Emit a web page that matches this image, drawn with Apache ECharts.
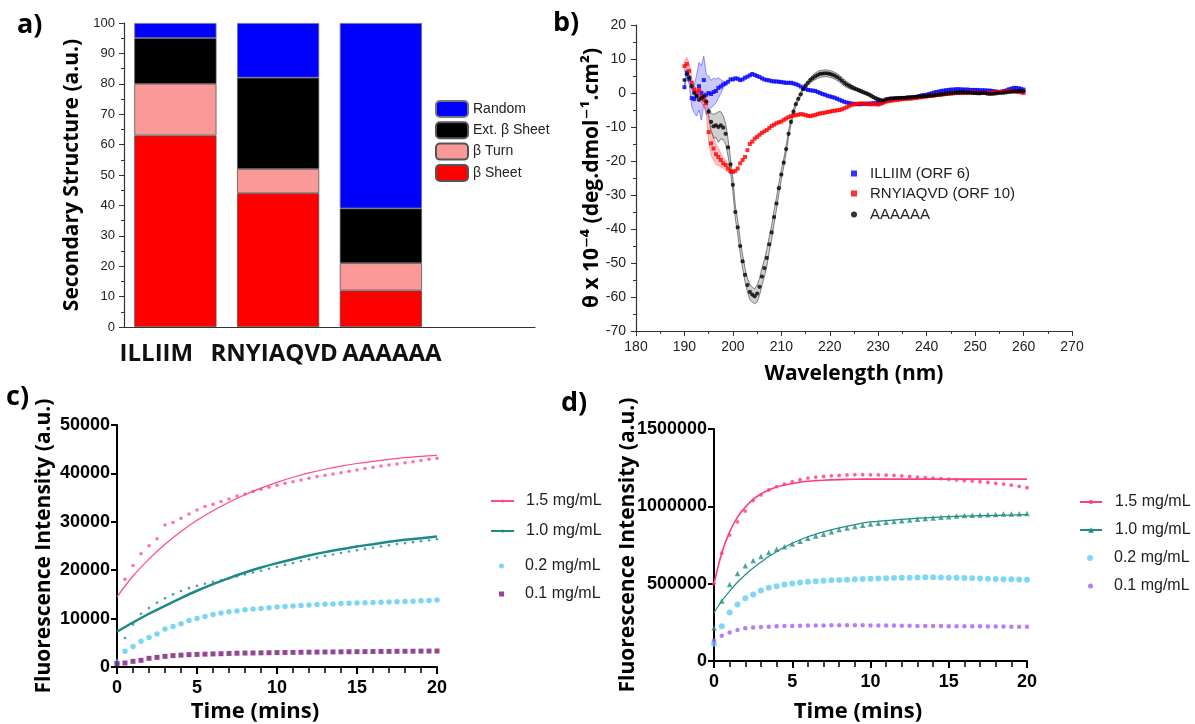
<!DOCTYPE html>
<html><head><meta charset="utf-8">
<script src="https://cdn.jsdelivr.net/npm/echarts@6/dist/echarts.min.js"></script>
<style>html,body{margin:0;padding:0;background:#fff}#c{width:1195px;height:724px}</style>
</head><body><div id="c"></div>
<script>
// ---------- Panel a: secondary structure ----------
const peptides = ['ILLIIM', 'RNYIAQVD', 'AAAAAA', ''];
const betaSheet    = [63, 44, 12, null];
const betaTurn     = [17, 8, 9, null];
const extBetaSheet = [15, 30, 18, null];
const randomCoil   = [5, 18, 61, null];
const structLegend = ['Random', 'Ext. β Sheet', 'β Turn', 'β Sheet'];

// ---------- Panel b: CD spectra (0.5 nm steps, 190-260 nm) ----------
const wavelength = Array.from({length: 141}, (_, i) => 190 + i * 0.5);
const cdILLIIM = [
 1.7, 6, 4, -1.5, -1.8, -0.8, 2, 0, 3.8, -0.5,
 0, -0.3, 0.3, 0.6, 1.5, 1.9, 2.5, 2.8, 3.3, 4,
 4, 4.3, 4.2, 3.8, 4, 4.5, 4.8, 5.2, 5.6, 5.3,
 5, 4.7, 4.3, 4, 3.8, 3.7, 3.5, 3.4, 3.4, 3.3,
 3.2, 3.1, 3, 3, 3, 2.8, 2.6, 2.3, 1.9, 1.5,
 1.2, 0.9, 0.8, 0.7, 0.6, 0.3, 0, -0.3, -0.5, -0.8,
 -1, -1.2, -1.4, -1.7, -2, -2.3, -2.6, -2.8, -3, -3.1,
 -3.2, -3.3, -3.3, -3.3, -3.2, -3.2, -3.1, -3.1, -3, -3,
 -2.9, -2.8, -2.6, -2.3, -2, -1.8, -1.7, -1.7, -1.6, -1.6,
 -1.5, -1.5, -1.4, -1.4, -1.3, -1.2, -1.1, -0.9, -0.7, -0.6,
 -0.5, -0.3, -0.1, 0.1, 0.3, 0.4, 0.6, 0.7, 0.8, 0.9,
 1, 1, 1.1, 1.1, 1.1, 1, 1, 1, 0.9, 0.9,
 0.9, 0.9, 0.8, 0.8, 0.8, 0.7, 0.7, 0.6, 0.5, 0.4,
 0.3, 0.4, 0.6, 0.8, 1.1, 1.3, 1.5, 1.5, 1.4, 1.2,
 1];
const cdRNYIAQVD = [
 7.9, 8.5, 6.5, 3, 1, 0.2, 0.8, -1, -2, -3,
 -11.5, -14.8, -16.3, -18, -18.8, -19.7, -20.7, -21.2, -22.2, -23,
 -23.2, -22.9, -22.2, -20.7, -19.7, -18.8, -16.8, -15, -14.3, -13.4,
 -12.9, -12.3, -11.7, -11.3, -10.9, -10.3, -9.7, -9.3, -8.9, -8.6,
 -8.4, -7.9, -7.5, -7.1, -6.8, -6.6, -6.5, -6.4, -6.2, -6.3,
 -6.5, -6.7, -6.8, -6.6, -6.5, -6.2, -6, -5.9, -5.8, -5.6,
 -5.5, -5.3, -5.2, -5.1, -5, -4.8, -4.5, -4.2, -3.8, -3.5,
 -3.3, -3.2, -3.1, -3.1, -3.1, -3.2, -3.3, -3.3, -3.3, -3.3,
 -3.4, -3.2, -2.9, -2.6, -2.4, -2.3, -2.2, -2.1, -2, -1.9,
 -1.8, -1.75, -1.7, -1.65, -1.6, -1.5, -1.4, -1.3, -1.2, -1.1,
 -1, -0.9, -0.8, -0.7, -0.6, -0.55, -0.5, -0.4, -0.3, -0.25,
 -0.2, -0.1, 0, 0, 0, 0, 0, 0.1, 0.2, 0.1,
 0, 0, 0, 0, 0, 0, 0, 0.1, 0.2, 0.2,
 0.3, 0.4, 0.5, 0.5, 0.5, 0.5, 0.5, 0.4, 0.3, 0.2,
 0];
const cdAAAAAA = [
 3.8, 5.5, 4.5, 2, 0, -1, -2, -1.5, -1, -2.5,
 -5.5, -8.5, -9.8, -9.5, -10, -9.5, -10.2, -12, -16, -21,
 -27, -35, -39.5, -45, -49.5, -53.5, -56.5, -58.5, -59.3, -59.8,
 -59, -57, -54, -51.5, -48.5, -44.5, -41, -36.5, -32.5, -28,
 -24, -20.5, -16.5, -12, -8.5, -5.5, -3.3, -1.7, -0.4, 1.2,
 2.2, 3, 3.8, 4.4, 4.9, 5.3, 5.6, 5.7, 5.8, 5.8,
 5.6, 5.4, 5.1, 4.7, 4.2, 3.6, 3.0, 2.5, 2.1, 1.7,
 1.4, 1.1, 0.8, 0.5, 0.2, -0.1, -0.4, -0.8, -1.2, -1.6,
 -1.9, -2.1, -2.2, -1.9, -1.7, -1.6, -1.6, -1.5, -1.5, -1.4,
 -1.4, -1.4, -1.3, -1.3, -1.2, -1.2, -1.1, -1.0, -1.0, -0.9,
 -0.9, -0.8, -0.8, -0.7, -0.6, -0.5, -0.4, -0.3, -0.2, -0.1,
 0, 0, 0.1, 0.1, 0.2, 0.2, 0.2, 0.1, 0.1, 0,
 0, -0.1, -0.1, 0, 0, -0.2, -0.3, -0.3, -0.2, -0.1,
 0, 0, 0.1, 0.2, 0.3, 0.4, 0.5, 0.5, 0.6, 0.5,
 0.5];
// error half-widths (shaded bands), 0.5 nm steps from the given start
const errStartILLIIM = 190;
const errILLIIM = [0.5, 1, 1.5, 2.5, 4, 6, 7, 8, 7, 6, 5, 4, 4, 3.5, 3, 2, 1, 0.5];
const errStartRNYIAQVD = 190;
const errRNYIAQVD = [1.5, 2, 2, 1.5, 1, 1, 1.5, 2, 2, 2.5, 3, 3.5, 3.5, 3, 2.5, 2, 1.5, 1.5, 1, 1];
const errStartAAAAAA = 195;
const errAAAAAA = [
 1, 2.5, 3.5, 3.5, 4.5, 4, 3.5, 3, 2.5, 2,
 2, 2, 2, 2, 2, 2, 2, 2.2, 2.2, 2.2,
 2.5, 2.5, 2.5, 2.5, 2.5, 2.2, 2, 2, 1.8, 1.5,
 1.5, 1.2, 1, 1, 0.8, 0.8, 0.6, 0.6, 0.6, 0.6,
 0.7, 0.7, 0.8, 0.9, 1, 1, 1, 1, 1, 1,
 1, 1, 1, 1, 1, 1, 1, 0.9, 0.8, 0.7,
 0.6, 0.5, 0.5, 0.5, 0.5, 0.5, 0.5, 0.5, 0.5, 0.5,
 0.5, 0.4, 0.3];
const cdLegend = ['ILLIIM (ORF 6)', 'RNYIAQVD (ORF 10)', 'AAAAAA'];

// ---------- Panels c & d: fluorescence kinetics ----------
const timeMin = Array.from({length: 41}, (_, i) => i * 0.5);
const concLegend = ['1.5 mg/mL', '1.0 mg/mL', '0.2 mg/mL', '0.1 mg/mL'];
// panel c
const c15 = [800, 18150, 20970, 23380, 25030, 26480, 29360, 29850, 30740, 31630, 32460, 33150, 33630, 34180, 34730, 35350, 35760, 36240, 36720, 37140, 37550, 37960, 38300, 38650, 38990, 39340, 39610, 39890, 40160, 40440, 40710, 40990, 41260, 41540, 41740, 41950, 42220, 42430, 42640, 42910, 43120];
const c10 = [1500, 6000, 8800, 11000, 12200, 13300, 14200, 15000, 15700, 16300, 16800, 17200, 17600, 17900, 18300, 18700, 19100, 19500, 19900, 20300, 20700, 21100, 21500, 21900, 22250, 22600, 22950, 23250, 23550, 23850, 24100, 24400, 24650, 24900, 25150, 25400, 25600, 25800, 26000, 26200, 26400];
const c02 = [830, 3230, 4260, 5300, 6120, 6810, 7840, 8390, 8940, 9630, 10040, 10450, 10870, 11140, 11420, 11550, 11830, 11970, 12100, 12240, 12380, 12500, 12600, 12700, 12800, 12900, 12950, 13000, 13100, 13150, 13200, 13300, 13350, 13400, 13450, 13500, 13550, 13600, 13700, 13750, 13850];
const c01 = [690, 830, 1170, 1380, 1790, 1990, 2200, 2350, 2450, 2550, 2600, 2650, 2700, 2750, 2800, 2850, 2880, 2900, 2930, 2950, 2980, 3000, 3020, 3040, 3060, 3080, 3100, 3120, 3140, 3150, 3170, 3180, 3200, 3210, 3220, 3240, 3250, 3260, 3280, 3290, 3300];
const fitTimeC = [0, 1, 2, 3, 4, 5, 6, 7, 8, 9, 10, 11, 12, 13, 14, 15, 16, 17, 18, 19, 20];
const c15fit = [14500, 18800, 22300, 25350, 28000, 30300, 32300, 34050, 35600, 36950, 38150, 39200, 40100, 40850, 41500, 42050, 42500, 42900, 43250, 43520, 43740];
const c10fit = [7300, 9200, 11000, 12650, 14240, 15750, 17120, 18360, 19530, 20560, 21460, 22280, 23040, 23730, 24340, 24900, 25380, 25860, 26270, 26610, 26960];
// panel d
const d15 = [500700, 696700, 814000, 899000, 969500, 1037700, 1073900, 1105800, 1127100, 1144200, 1159100, 1171900, 1182500, 1188900, 1193200, 1197000, 1200000, 1203000, 1205000, 1205000, 1204000, 1203000, 1202000, 1200000, 1197000, 1193000, 1189000, 1186000, 1183000, 1179000, 1175000, 1171000, 1167000, 1163000, 1159000, 1154000, 1149000, 1144000, 1137000, 1129000, 1120000];
const d10 = [213000, 388000, 494000, 565000, 616000, 650000, 675000, 701000, 722000, 739000, 756000, 775000, 793000, 808000, 820000, 835000, 850000, 860000, 870000, 878000, 885000, 891000, 897000, 902000, 907000, 912000, 917000, 921000, 925000, 929000, 933000, 937000, 940000, 942000, 944000, 946000, 948000, 950000, 951000, 952000, 953000];
const d02 = [111000, 224000, 313000, 366000, 405000, 430000, 456000, 473000, 484000, 494000, 501000, 507000, 512000, 516000, 519000, 522000, 524000, 526000, 528000, 530000, 532000, 534000, 535000, 536000, 538000, 539000, 540000, 541000, 541000, 540000, 539000, 538000, 536000, 535000, 533000, 532000, 530000, 529000, 528000, 527000, 526000];
const d01 = [132000, 164000, 185000, 200000, 211000, 216000, 220000, 222000, 224000, 226000, 227000, 228000, 229000, 230000, 230000, 231000, 231000, 231000, 231000, 231000, 230000, 230000, 229000, 229000, 228000, 228000, 227000, 227000, 226000, 226000, 225000, 225000, 224000, 224000, 224000, 223000, 223000, 223000, 222000, 222000, 222000];
const fitTimeD = [0, 0.5, 1, 1.5, 2, 2.5, 3, 3.5, 4, 4.5, 5, 6, 7, 8, 9, 10, 12, 14, 16, 18, 20];
const d15fit = [500000, 700000, 835000, 930000, 995000, 1045000, 1080000, 1105000, 1125000, 1138000, 1148000, 1162000, 1169000, 1173000, 1175000, 1176000, 1176000, 1176000, 1176000, 1176000, 1176000];
const d10fit = [313000, 388000, 452000, 509000, 558000, 601000, 639000, 675000, 707000, 735000, 761000, 803000, 835000, 861000, 882000, 899000, 916000, 929000, 937000, 942000, 946000];

// ---------- styling ----------
const FT = "'Open Sans', 'DejaVu Sans', sans-serif";
const FL = "'Liberation Sans', Arial, sans-serif";
const pair = (xs, ys) => xs.map((x, i) => [x, ys[i]]);
const strip = n => n.split('|')[1];

const chart = echarts.init(document.getElementById('c'));

function bandSeries(start, err, values, fill, stroke) {
  const k0 = Math.round((start - wavelength[0]) / 0.5);
  const pts = err.map((e, i) => [wavelength[k0 + i], values[k0 + i] - e, values[k0 + i] + e]);
  return {
    type: 'custom', xAxisIndex: 2, yAxisIndex: 1, silent: true, z: 1,
    encode: {x: 0, y: [1, 2]}, data: pts,
    renderItem: function (params, api) {
      if (params.dataIndex !== 0) return null;
      const up = pts.map(p => api.coord([p[0], p[2]]));
      const lo = pts.map(p => api.coord([p[0], p[1]])).reverse();
      return {type: 'polygon', shape: {points: up.concat(lo)},
              style: {fill: fill, stroke: stroke, lineWidth: 0.7}};
    }
  };
}

const catShift = [{padding: [0, 38, 0, 0]}, {padding: [0, 8, 0, 0]}, {padding: [0, 0, 0, 22]}];
const catFont = {fontFamily: FT, fontWeight: 'bold', fontSize: 24, color: '#111'};

const thinAxis = {onZero: false, lineStyle: {color: '#333', width: 1.2}};
const thickAxis = {show: true, onZero: false, lineStyle: {color: '#000', width: 2}};

function kinXAxis(grid, gap, shift) {
  return {gridIndex: grid, type: 'value', min: 0, max: 20, interval: 5,
    axisLine: thickAxis,
    axisTick: {show: true, length: 7, lineStyle: {color: '#000', width: 2}},
    minorTick: {show: true, splitNumber: 5, length: 6, lineStyle: {color: '#000', width: 1.5}},
    splitLine: {show: false}, minorSplitLine: {show: false},
    axisLabel: {margin: 12, fontFamily: FL, fontWeight: 'bold', fontSize: 18, color: '#000'},
    name: 'Time (mins)', nameLocation: 'middle', nameGap: gap, nameMoveOverlap: false,
    nameTextStyle: {fontFamily: FT, fontWeight: 'bold', fontSize: 22, color: '#000', padding: [0, shift, 0, 0]}};
}
function kinYAxis(grid, max, interval, gap) {
  return {gridIndex: grid, type: 'value', min: 0, max: max, interval: interval,
    axisLine: thickAxis,
    axisTick: {show: true, length: 6, lineStyle: {color: '#000', width: 2}},
    splitLine: {show: false},
    axisLabel: {margin: 7, fontFamily: FL, fontWeight: 'bold', fontSize: 18, color: '#000', formatter: v => String(v)},
    name: 'Fluorescence Intensity (a.u.)', nameLocation: 'middle', nameGap: gap, nameMoveOverlap: false,
    nameTextStyle: {fontFamily: FT, fontWeight: 'bold', fontSize: 21, color: '#000'}};
}
function kinLegend(name, left, top, w, h, pad) {
  return {data: [name], left: left, top: top, itemWidth: w, itemHeight: h, selectedMode: false,
    formatter: strip, textStyle: {fontFamily: FL, fontSize: 16, color: '#222', padding: [0, 0, 0, pad]}};
}
function cdLegendItem(name, top) {
  return {data: [name], left: 846, top: top, itemWidth: 6, itemHeight: 6, selectedMode: false,
    textStyle: {fontFamily: FL, fontSize: 15, color: '#222', padding: [0, 0, 0, 8]}};
}

const pinkC = '#ff4a86', tealC = '#1c8a87', blueC = '#5ccbf4', purpleC = '#7a167a';
const pinkD = '#ff3c7c', tealD = '#248c86', blueD = '#5fcdf6', purpleD = '#a65ef2';

const option = {
  backgroundColor: '#fff',
  animation: false,
  grid: [
    {left: 124, top: 23, width: 411, height: 304},
    {left: 636, top: 25, width: 436, height: 306},
    {left: 117, top: 425, width: 320, height: 242},
    {left: 714, top: 429, width: 313, height: 235}
  ],
  xAxis: [
    {gridIndex: 0, type: 'category', data: peptides,
      axisLine: thinAxis,
      axisTick: {alignWithLabel: true, length: 6, lineStyle: {color: '#333'}},
      axisLabel: {margin: 15, interval: 0, ...catFont,
        formatter: (v, i) => v ? '{s' + i + '|' + v + '}' : '',
        rich: {s0: {...catFont, ...catShift[0]}, s1: {...catFont, ...catShift[1]}, s2: {...catFont, ...catShift[2]}}}},
    {gridIndex: 0, type: 'category', data: peptides, position: 'bottom',
      axisLine: {show: false}, axisTick: {length: 3, lineStyle: {color: '#333'}}, axisLabel: {show: false}},
    {gridIndex: 1, type: 'value', min: 180, max: 270, interval: 10,
      axisLine: {show: true, ...thinAxis},
      axisTick: {show: true, length: 5, lineStyle: {color: '#333'}},
      minorTick: {show: true, splitNumber: 2, length: 3, lineStyle: {color: '#333'}},
      splitLine: {show: false},
      axisLabel: {margin: 9, fontFamily: FL, fontSize: 14, color: '#222'},
      name: 'Wavelength (nm)', nameLocation: 'middle', nameGap: 33, nameMoveOverlap: false,
      nameTextStyle: {fontFamily: FT, fontWeight: 'bold', fontSize: 21, color: '#000'}},
    kinXAxis(2, 34, 44),
    kinXAxis(3, 40, 25)
  ],
  yAxis: [
    {gridIndex: 0, type: 'value', min: 0, max: 100, interval: 10,
      axisLine: {show: true, ...thinAxis},
      axisTick: {show: true, length: 5, lineStyle: {color: '#333'}},
      minorTick: {show: true, splitNumber: 2, length: 3, lineStyle: {color: '#333'}},
      splitLine: {show: false},
      axisLabel: {margin: 9, fontFamily: FL, fontSize: 13, color: '#222'},
      name: 'Secondary Structure (a.u.)', nameLocation: 'middle', nameGap: 41, nameMoveOverlap: false,
      nameTextStyle: {fontFamily: FT, fontWeight: 'bold', fontSize: 21, color: '#000'}},
    {gridIndex: 1, type: 'value', min: -70, max: 20, interval: 10,
      axisLine: {show: true, ...thinAxis},
      axisTick: {show: true, length: 5, lineStyle: {color: '#333'}},
      minorTick: {show: true, splitNumber: 2, length: 3, lineStyle: {color: '#333'}},
      splitLine: {show: false},
      axisLabel: {margin: 10, fontFamily: FL, fontSize: 14, color: '#222'},
      name: 'θ x 10⁻⁴ (deg.dmol⁻¹.cm²)', nameLocation: 'middle', nameGap: 33, nameMoveOverlap: false,
      nameTextStyle: {fontFamily: FT, fontWeight: 'bold', fontSize: 21, color: '#000'}},
    kinYAxis(2, 50000, 10000, 62),
    kinYAxis(3, 1500000, 500000, 75)
  ],
  legend: [
    {data: structLegend, orient: 'vertical', left: 430, top: 95, itemWidth: 32, itemHeight: 16, itemGap: 3.3,
      selectedMode: false, textStyle: {fontFamily: FL, fontSize: 14, color: '#222'}},
    cdLegendItem(cdLegend[0], 161),
    cdLegendItem(cdLegend[1], 181),
    cdLegendItem(cdLegend[2], 202),
    kinLegend('c|' + concLegend[0], 485, 488, 23, 4, 7),
    kinLegend('c|' + concLegend[1], 485, 518, 23, 4, 7),
    kinLegend('c|' + concLegend[2], 494, 553, 5, 5, 16),
    kinLegend('c|' + concLegend[3], 494, 581, 5, 5, 16),
    kinLegend('d|' + concLegend[0], 1074, 489, 22, 5, 8),
    kinLegend('d|' + concLegend[1], 1074, 517, 22, 7, 8),
    kinLegend('d|' + concLegend[2], 1082, 545, 6, 6, 16),
    kinLegend('d|' + concLegend[3], 1083, 573, 5, 5, 16)
  ],
  graphic: [
    {type: 'text', left: 17, top: 12, style: {text: 'a)', font: "bold 27px 'Open Sans'", fill: '#000'}},
    {type: 'text', left: 553, top: 10, style: {text: 'b)', font: "bold 27px 'Open Sans'", fill: '#000'}},
    {type: 'text', left: 6, top: 384, style: {text: 'c)', font: "bold 27px 'Open Sans'", fill: '#000'}},
    {type: 'text', left: 561, top: 390, style: {text: 'd)', font: "bold 27px 'Open Sans'", fill: '#000'}}
  ],
  series: [
    // a
    {name: 'β Sheet', type: 'bar', stack: 'a', xAxisIndex: 0, yAxisIndex: 0, barCategoryGap: '20%', data: betaSheet,
      itemStyle: {color: '#ff0000', borderColor: '#555', borderWidth: 0.8}},
    {name: 'β Turn', type: 'bar', stack: 'a', xAxisIndex: 0, yAxisIndex: 0, data: betaTurn,
      itemStyle: {color: '#fb9999', borderColor: '#555', borderWidth: 0.8}},
    {name: 'Ext. β Sheet', type: 'bar', stack: 'a', xAxisIndex: 0, yAxisIndex: 0, data: extBetaSheet,
      itemStyle: {color: '#000000', borderColor: '#555', borderWidth: 0.8}},
    {name: 'Random', type: 'bar', stack: 'a', xAxisIndex: 0, yAxisIndex: 0, data: randomCoil,
      itemStyle: {color: '#0000ff', borderColor: '#777', borderWidth: 0.8}},
    // b bands
    bandSeries(errStartILLIIM, errILLIIM, cdILLIIM, 'rgba(60,60,255,0.28)', 'rgba(40,40,255,0.7)'),
    bandSeries(errStartRNYIAQVD, errRNYIAQVD, cdRNYIAQVD, 'rgba(255,60,60,0.3)', 'rgba(255,60,60,0.6)'),
    bandSeries(errStartAAAAAA, errAAAAAA, cdAAAAAA, 'rgba(120,120,120,0.35)', 'rgba(40,40,40,0.8)'),
    // b spectra
    {name: cdLegend[0], type: 'scatter', xAxisIndex: 2, yAxisIndex: 1, z: 3, symbol: 'rect', symbolSize: 4,
      itemStyle: {color: '#0000ff'}, data: pair(wavelength, cdILLIIM)},
    {name: cdLegend[1], type: 'scatter', xAxisIndex: 2, yAxisIndex: 1, z: 3, symbol: 'rect', symbolSize: 4,
      itemStyle: {color: '#ff0000'}, data: pair(wavelength, cdRNYIAQVD)},
    {name: cdLegend[2], type: 'scatter', xAxisIndex: 2, yAxisIndex: 1, z: 4, symbol: 'circle', symbolSize: 4.2,
      itemStyle: {color: '#000000'}, data: pair(wavelength, cdAAAAAA)},
    // c
    {name: 'c|' + concLegend[0], type: 'line', xAxisIndex: 3, yAxisIndex: 2, smooth: 0.3,
      symbol: 'circle', showSymbol: false, lineStyle: {color: pinkC, width: 1.2}, itemStyle: {color: pinkC},
      data: pair(fitTimeC, c15fit)},
    {name: 'c|' + concLegend[1], type: 'line', xAxisIndex: 3, yAxisIndex: 2, smooth: 0.3,
      symbol: 'none', lineStyle: {color: tealC, width: 2.5}, itemStyle: {color: tealC},
      data: pair(fitTimeC, c10fit)},
    {name: 'c|pts15', type: 'scatter', xAxisIndex: 3, yAxisIndex: 2, symbolSize: 3.5, itemStyle: {color: pinkC},
      data: pair(timeMin, c15)},
    {name: 'c|pts10', type: 'scatter', xAxisIndex: 3, yAxisIndex: 2, symbolSize: 2.6, itemStyle: {color: tealC},
      data: pair(timeMin, c10)},
    {name: 'c|' + concLegend[2], type: 'scatter', xAxisIndex: 3, yAxisIndex: 2, symbolSize: 5.5, itemStyle: {color: blueC},
      data: pair(timeMin, c02)},
    {name: 'c|' + concLegend[3], type: 'scatter', xAxisIndex: 3, yAxisIndex: 2, symbol: 'rect', symbolSize: 5, itemStyle: {color: purpleC},
      data: pair(timeMin, c01)},
    // d
    {name: 'd|' + concLegend[0], type: 'line', xAxisIndex: 4, yAxisIndex: 3, smooth: 0.3,
      symbol: 'circle', showSymbol: false, lineStyle: {color: pinkD, width: 1.6}, itemStyle: {color: pinkD},
      data: pair(fitTimeD, d15fit)},
    {name: 'd|' + concLegend[1], type: 'line', xAxisIndex: 4, yAxisIndex: 3, smooth: 0.3,
      symbol: 'triangle', showSymbol: false, lineStyle: {color: tealD, width: 1.2}, itemStyle: {color: tealD},
      data: pair(fitTimeD, d10fit)},
    {name: 'd|pts15', type: 'scatter', xAxisIndex: 4, yAxisIndex: 3, symbolSize: 3.8, itemStyle: {color: pinkD},
      data: pair(timeMin, d15)},
    {name: 'd|pts10', type: 'scatter', xAxisIndex: 4, yAxisIndex: 3, symbol: 'triangle', symbolSize: 5.5, itemStyle: {color: tealD},
      data: pair(timeMin, d10)},
    {name: 'd|' + concLegend[2], type: 'scatter', xAxisIndex: 4, yAxisIndex: 3, symbolSize: 6, itemStyle: {color: blueD},
      data: pair(timeMin, d02)},
    {name: 'd|' + concLegend[3], type: 'scatter', xAxisIndex: 4, yAxisIndex: 3, symbolSize: 4.5, itemStyle: {color: purpleD},
      data: pair(timeMin, d01)}
  ]
};
chart.setOption(option);
</script>
</body></html>
